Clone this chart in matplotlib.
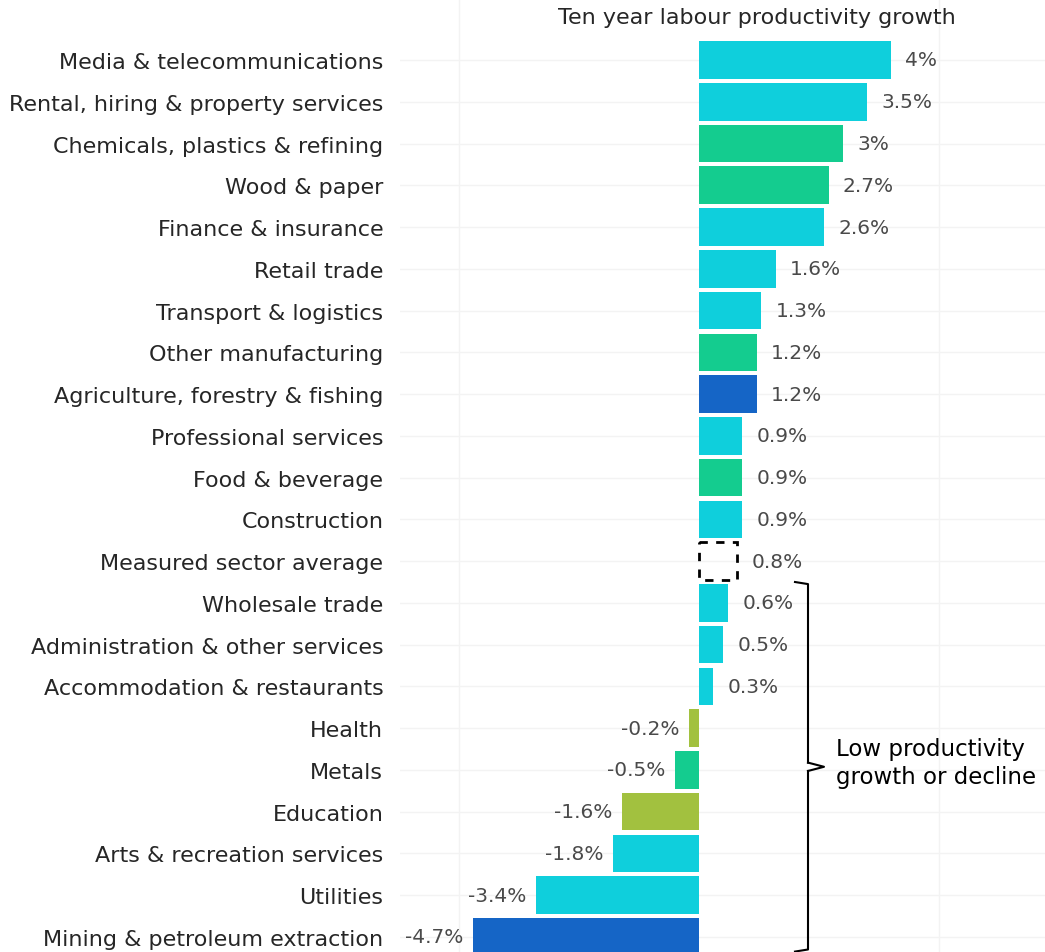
import matplotlib
matplotlib.use("Agg")
import matplotlib.pyplot as plt

sectors = [
    "Media & telecommunications",
    "Rental, hiring & property services",
    "Chemicals, plastics & refining",
    "Wood & paper",
    "Finance & insurance",
    "Retail trade",
    "Transport & logistics",
    "Other manufacturing",
    "Agriculture, forestry & fishing",
    "Professional services",
    "Food & beverage",
    "Construction",
    "Measured sector average",
    "Wholesale trade",
    "Administration & other services",
    "Accommodation & restaurants",
    "Health",
    "Metals",
    "Education",
    "Arts & recreation services",
    "Utilities",
    "Mining & petroleum extraction",
]
growth = [4.0, 3.5, 3.0, 2.7, 2.6, 1.6, 1.3, 1.2, 1.2, 0.9, 0.9, 0.9, 0.8,
          0.6, 0.5, 0.3, -0.2, -0.5, -1.6, -1.8, -3.4, -4.7]
groups = ["svc", "svc", "mfg", "mfg", "svc", "svc", "svc", "mfg", "pri", "svc",
          "mfg", "svc", "avg", "svc", "svc", "svc", "pub", "mfg", "pub", "svc",
          "svc", "pri"]

palette = {
    "svc": "#0fcfdc",
    "mfg": "#14cc8f",
    "pri": "#1565c6",
    "pub": "#a2c13f",
}

plt.rcParams["font.family"] = ["DejaVu Sans"]

fig = plt.figure(figsize=(10.45, 9.53), dpi=100)
W, H = 1045, 953
# axes spans x px 400..1045, y px 0..953
ax = fig.add_axes([400 / W, 0, 645 / W, 1])

px_per_pct = 48.0
x0 = 699
ax.set_xlim((400 - x0) / px_per_pct, (1045 - x0) / px_per_pct)
row = 41.76
ax.set_ylim((953 - 61) / row, (0 - 61) / row)

ys = list(range(len(sectors)))
for y, v, g in zip(ys, growth, groups):
    if g == "avg":
        ax.barh(y, v, height=0.9, facecolor="none", edgecolor="black",
                linestyle=(0, (3, 3)), linewidth=2, zorder=3)
    else:
        ax.barh(y, v, height=0.9, color=palette[g], zorder=3)
    txt = f"{v:g}%"
    if v >= 0:
        ax.text(v + 0.3, y, txt, ha="left", va="center", fontsize=14.5, color="#4a4a4a", zorder=4)
    else:
        ax.text(v - 0.2, y, txt, ha="right", va="center", fontsize=14.5, color="#4a4a4a", zorder=4)

ax.set_yticks(ys)
ax.set_yticklabels(sectors, fontsize=16, color="#262626")
ax.tick_params(axis="y", length=0, pad=12)
ax.set_xticks([])
for s in ax.spines.values():
    s.set_visible(False)
for y in ys:
    ax.axhline(y, color="#f3f3f3", linewidth=1, zorder=0)
for gx in (-5, 5):
    ax.axvline(gx, color="#f3f3f3", linewidth=1, zorder=0)

# bracket for low productivity group
bx = (808 - x0) / px_per_pct
hook = (795 - x0) / px_per_pct
tip = (824 - x0) / px_per_pct
top, bot = 12.55, 21.3
mid = (top + bot) / 2
ax.plot([hook, bx, bx], [top - 0.05, top, mid - 0.1], color="black", lw=1.5, zorder=5, clip_on=False)
ax.plot([bx, tip, bx], [mid - 0.1, mid, mid + 0.1], color="black", lw=1.5, zorder=5, clip_on=False)
ax.plot([bx, bx, hook], [mid + 0.1, bot, bot + 0.05], color="black", lw=1.5, zorder=5, clip_on=False)
ax.text((836 - x0) / px_per_pct, mid - 0.1, "Low productivity\ngrowth or decline", ha="left", va="center",
        fontsize=16.5, color="black", linespacing=1.3)

fig.text(757 / W, 1 - 18 / H, "Ten year labour productivity growth", ha="center", va="center",
         fontsize=16, color="#262626")

fig.savefig("out.png", dpi=100, facecolor="white")
